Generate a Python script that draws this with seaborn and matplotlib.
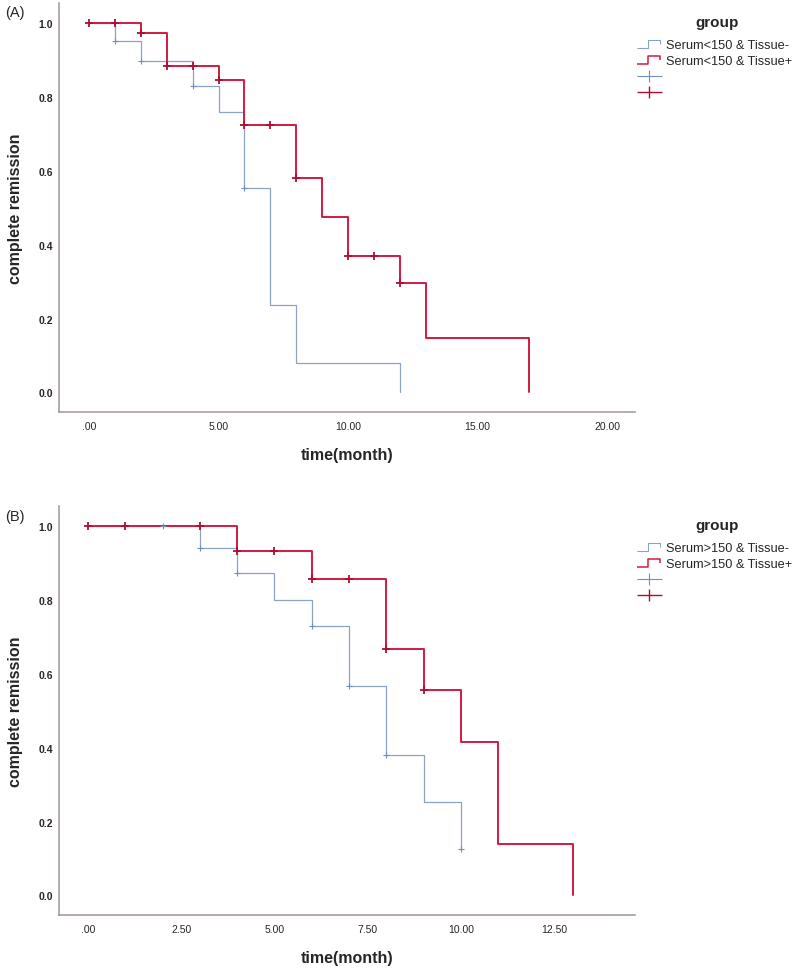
import numpy as np
import pandas as pd
import seaborn as sns
import matplotlib
matplotlib.use("Agg")
import matplotlib.pyplot as plt
from matplotlib.path import Path
from matplotlib.lines import Line2D

# panel A: Serum<150
a_t_neg = [0, 1, 2, 4, 5, 6, 7, 8, 12]
a_s_neg = [1.0, 0.952, 0.896, 0.83, 0.76, 0.553, 0.237, 0.079, 0.0]
a_c_neg = [1, 2, 4, 6]
a_t_pos = [0, 2, 3, 5, 6, 8, 9, 10, 12, 13, 17]
a_s_pos = [1.0, 0.973, 0.884, 0.846, 0.725, 0.58, 0.475, 0.369, 0.295, 0.147, 0.0]
a_c_pos = [0, 1, 2, 3, 4, 5, 6, 7, 8, 10, 11, 12]
a_groups = ["Serum<150 & Tissue-", "Serum<150 & Tissue+"]
a_xticks = [0, 5, 10, 15, 20]
a_xlabels = [".00", "5.00", "10.00", "15.00", "20.00"]

# panel B: Serum>150
b_t_neg = [0, 3, 4, 5, 6, 7, 8, 9, 10]
b_s_neg = [1.0, 0.94, 0.873, 0.80, 0.728, 0.566, 0.379, 0.253, 0.126]
b_c_neg = [2, 3, 4, 6, 7, 8, 10]
b_t_pos = [0, 4, 6, 8, 9, 10, 11, 13]
b_s_pos = [1.0, 0.932, 0.856, 0.666, 0.556, 0.416, 0.14, 0.0]
b_c_pos = [0, 1, 3, 4, 5, 6, 7, 8, 9]
b_groups = ["Serum>150 & Tissue-", "Serum>150 & Tissue+"]
b_xticks = [0, 2.5, 5, 7.5, 10, 12.5]
b_xlabels = [".00", "2.50", "5.00", "7.50", "10.00", "12.50"]

yticks = [0, 0.2, 0.4, 0.6, 0.8, 1.0]
ylabels = ["0.0", "0.2", "0.4", "0.6", "0.8", "1.0"]

BLUE = "#8aa3c6"
BLUE_M = "#6f8fc0"
RED = "#d41a40"
RED_M = "#b00e30"
SPINE = "#a39494"

sns.set_style("white")
plt.rcParams["font.family"] = ["Liberation Sans", "DejaVu Sans"]


def step_val(times, surv, t):
    i = np.searchsorted(times, t, side="right") - 1
    return surv[i]


step_path = Path([(-1, -0.3), (-0.1, -0.3), (-0.1, 0.3), (0.9, 0.3), (0.9, 0.0)],
                 [Path.MOVETO, Path.LINETO, Path.LINETO, Path.LINETO, Path.LINETO])
plus_path = Path([(-1, 0), (1, 0), (0, -0.45), (0, 0.45)],
                 [Path.MOVETO, Path.LINETO, Path.MOVETO, Path.LINETO])


def panel(ax, curves, groups, xticks, xlabels, xlim):
    colors = [BLUE, RED]
    mcolors = [BLUE_M, RED_M]
    widths = [0.9, 1.4]
    for (t, s, c), g, col, mc, lw in zip(curves, groups, colors, mcolors, widths):
        df = pd.DataFrame({"time": t, "surv": s})
        sns.lineplot(data=df, x="time", y="surv", drawstyle="steps-post",
                     estimator=None, color=col, lw=lw, ax=ax, legend=False)
        cdf = pd.DataFrame({"time": c,
                            "surv": [step_val(np.array(t), np.array(s), v) for v in c]})
        sns.scatterplot(data=cdf, x="time", y="surv", marker="+", color=mc,
                        s=30 if col == RED else 22, linewidth=1.3 if col == RED else 0.8,
                        ax=ax, legend=False, zorder=5)
    ax.set_xlim(*xlim)
    ax.set_ylim(-0.053, 1.054)
    ax.set_xticks(xticks)
    ax.set_xticklabels(xlabels, fontsize=7.5)
    ax.set_yticks(yticks)
    ax.set_yticklabels(ylabels, fontsize=7.5, fontweight="bold")
    ax.tick_params(length=0)
    ax.tick_params(axis="x", pad=6.5)
    ax.tick_params(axis="y", pad=4.3)
    for side in ["top", "right"]:
        ax.spines[side].set_visible(False)
    for side in ["left", "bottom"]:
        ax.spines[side].set_color(SPINE)
        ax.spines[side].set_linewidth(1.1)
    ax.set_xlabel("time(month)", fontsize=11.5, fontweight="bold")
    ax.set_ylabel("complete remission", fontsize=11.5, fontweight="bold")
    ax.xaxis.set_label_coords(0.5, -0.0856)
    ax.yaxis.set_label_coords(-0.062, 0.5)

    handles = [
        Line2D([], [], marker=step_path, markersize=18, ls="None",
               markerfacecolor="none", markeredgecolor=BLUE, markeredgewidth=0.8),
        Line2D([], [], marker=step_path, markersize=18, ls="None",
               markerfacecolor="none", markeredgecolor=RED, markeredgewidth=1.1),
        Line2D([], [], marker=plus_path, markersize=18, ls="None",
               markeredgecolor=BLUE_M, markeredgewidth=0.8),
        Line2D([], [], marker=plus_path, markersize=18, ls="None",
               markeredgecolor=RED_M, markeredgewidth=1.0),
    ]
    ax.legend(handles, groups + ["", ""], loc="upper left",
              bbox_to_anchor=((637 - 59) / 576, 1 - 36 / 409), frameon=False,
              fontsize=9.2, borderpad=0, handlelength=1.9, handletextpad=0.4,
              labelspacing=0.32, numpoints=1, borderaxespad=0)
    ax.text((717 - 59) / 576, 1 - 19 / 409, "group", transform=ax.transAxes,
            ha="center", va="center", fontsize=11, fontweight="bold")


fig = plt.figure(figsize=(8, 9.7), dpi=100)
ax_a = fig.add_axes([59 / 800, 1 - 413 / 970, 576 / 800, 409 / 970])
ax_b = fig.add_axes([59 / 800, 1 - 916 / 970, 576 / 800, 409 / 970])

panel(ax_a, [(a_t_neg, a_s_neg, a_c_neg), (a_t_pos, a_s_pos, a_c_pos)],
      a_groups, a_xticks, a_xlabels, (-1.16, 21.08))
panel(ax_b, [(b_t_neg, b_s_neg, b_c_neg), (b_t_pos, b_s_pos, b_c_pos)],
      b_groups, b_xticks, b_xlabels, (-0.78, 14.67))

fig.text(5 / 800, 1 - 13 / 970, "(A)", fontsize=10.5, va="center")
fig.text(5 / 800, 1 - 517 / 970, "(B)", fontsize=10.5, va="center")

fig.savefig("out.png", dpi=100, facecolor="white")
